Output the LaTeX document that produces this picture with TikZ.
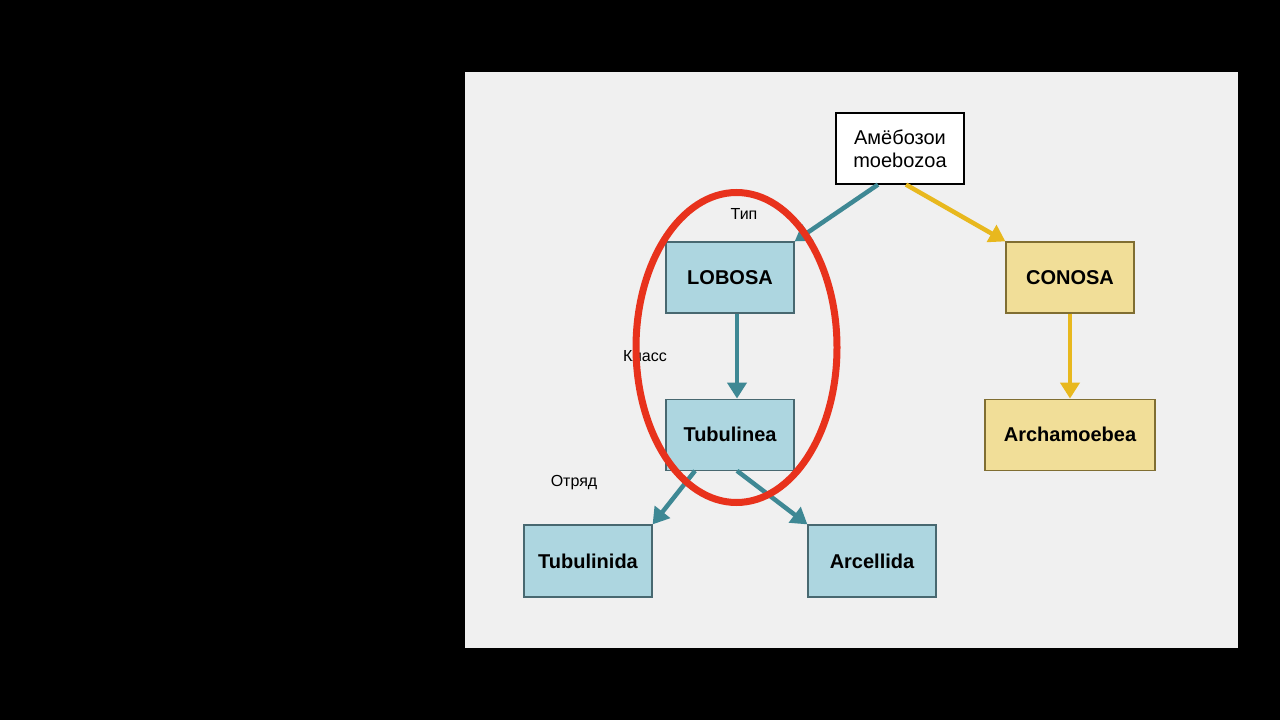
\documentclass[tikz,border=0pt]{standalone}
\usepackage{fontspec}
\setmainfont{Liberation Sans}
\usetikzlibrary{arrows.meta, positioning}

\definecolor{panel}{RGB}{240,240,240}
\definecolor{lobofill}{RGB}{173,214,224}
\definecolor{loboedge}{RGB}{72,104,112}
\definecolor{conofill}{RGB}{241,222,152}
\definecolor{conoedge}{RGB}{128,110,50}
\definecolor{tealarrow}{RGB}{62,136,148}
\definecolor{goldarrow}{RGB}{232,184,30}
\definecolor{ring}{RGB}{232,50,28}

\begin{document}
\begin{tikzpicture}[x=1pt, y=-1pt,
  taxon/.style={draw, line width=1.2pt, minimum width=128pt, minimum height=71pt, inner sep=0pt, font=\fontsize{20}{24}\selectfont\bfseries},
  lobo/.style={taxon, fill=lobofill, draw=loboedge},
  cono/.style={taxon, fill=conofill, draw=conoedge},
  rank/.style={font=\fontsize{16}{19}\selectfont},
  link/.style={line width=4.5pt, -{Triangle[length=16pt, width=19pt]}},
  lobolink/.style={link, tealarrow},
  conolink/.style={link, goldarrow}]

\fill[black] (0,0) rectangle (1280,720);
\fill[panel] (465,72) rectangle (1238,648);

\node[draw, fill=white, line width=1.2pt, minimum width=128pt, minimum height=71pt, align=center, font=\fontsize{20}{23}\selectfont] (root) at (900,148.5) {Амёбозои\\moebozoa};

\node[lobo] (lobosa) at (730,277.5) {LOBOSA};
\node[lobo, below=85pt of lobosa] (tubulinea) {Tubulinea};
\node[lobo, minimum height=72pt] (tubulinida) at (588,561) {Tubulinida};
\node[lobo, minimum height=72pt] (arcellida) at (872,561) {Arcellida};

\node[cono] (conosa) at (1070,277.5) {CONOSA};
\node[cono, minimum width=170pt, below=85pt of conosa] (archamoebea) {Archamoebea};

\node[rank] (tip) at (744,214) {Тип};
\node[rank] (klass) at (645,356) {Класс};
\node[rank] (otryad) at (574,483) {Отряд};

\draw[lobolink] ([xshift=-22pt]root.south) -- (lobosa.north east);
\draw[conolink] ([xshift=6pt]root.south) -- (conosa.north west);
\draw[lobolink] ([xshift=7pt]lobosa.south) -- ([xshift=7pt]tubulinea.north);
\draw[conolink] (conosa.south) -- (archamoebea.north);
\draw[lobolink] ([xshift=-35pt]tubulinea.south) -- (tubulinida.north east);
\draw[lobolink] ([xshift=7pt]tubulinea.south) -- (arcellida.north west);

% the phylum LOBOSA ringed in red
\draw[ring, line width=7pt] (736.5,347.5) ellipse [x radius=100.5, y radius=155];
\end{tikzpicture}
\end{document}
